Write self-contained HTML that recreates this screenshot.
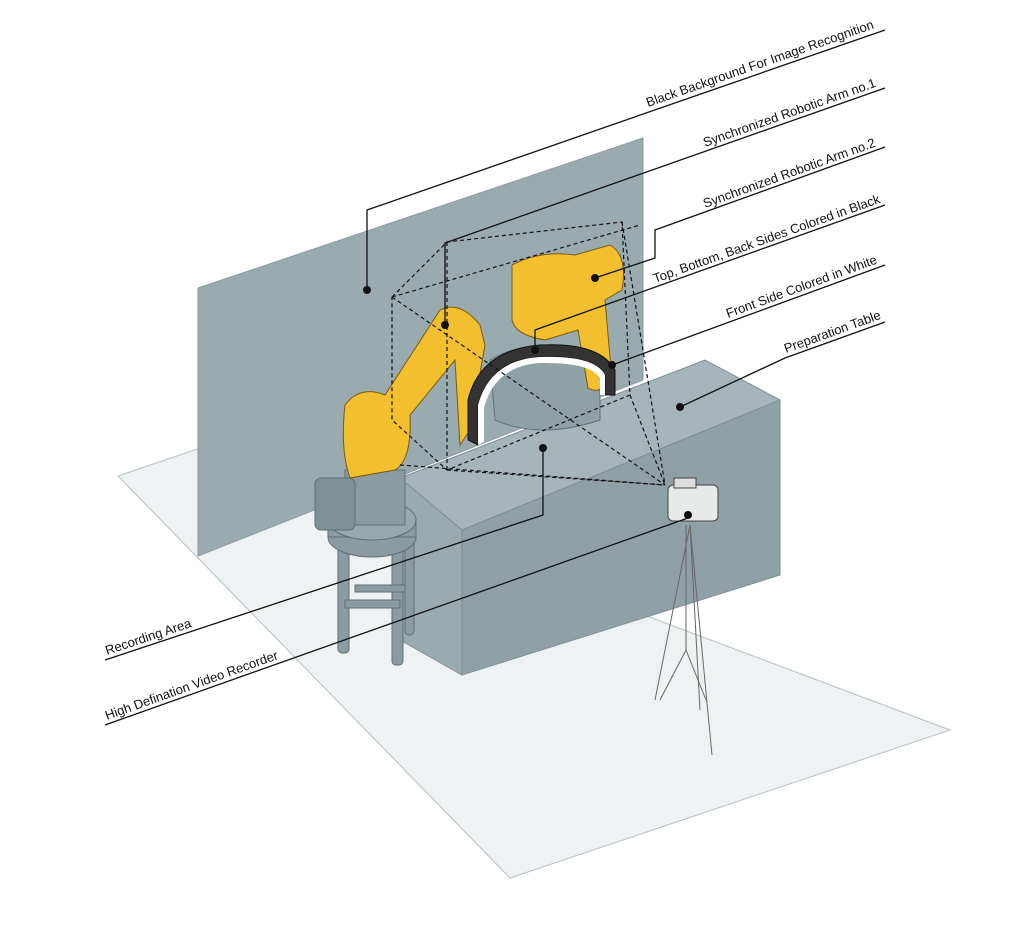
<!DOCTYPE html>
<html><head><meta charset="utf-8"><style>
html,body{margin:0;padding:0;background:#fff;}
svg{display:block}
text{font-family:"Liberation Sans",sans-serif;font-size:13px;fill:#111}
</style></head><body>
<svg width="1024" height="927" viewBox="0 0 1024 927" xmlns="http://www.w3.org/2000/svg">
<polygon points="118,476 200,448 950,730 510,878" fill="#eef2f3" stroke="#b5c0c3" stroke-width="1"/>
<polygon points="198,288 643,138 643,380 198,556" fill="#9aabb0" stroke="#8a9a9f" stroke-width="1"/>
<polygon points="400,478 705,360 780,400 462,530" fill="#a5b5b9" stroke="#7f8f94" stroke-width="1"/>
<polygon points="462,530 780,400 780,575 462,675" fill="#8fa1a6" stroke="#7f8f94" stroke-width="1"/>
<polygon points="400,478 462,530 462,675 400,640" fill="#9aabb0" stroke="#7f8f94" stroke-width="1"/>
<g fill="#8a9ca1" stroke="#5f6f74" stroke-width="1">
<rect x="338" y="545" width="11" height="108" rx="4"/>
<rect x="392" y="545" width="11" height="120" rx="4"/>
<rect x="405" y="540" width="9" height="95" rx="4"/>
<rect x="345" y="600" width="55" height="8"/>
<rect x="355" y="585" width="50" height="7"/>
<ellipse cx="372" cy="537" rx="44" ry="20"/>
<rect x="328" y="520" width="88" height="17"/>
<ellipse cx="372" cy="520" rx="44" ry="20" fill="#98a9ae"/>
<rect x="345" y="470" width="60" height="55" fill="#8a9ca1"/>
<rect x="315" y="478" width="40" height="52" rx="6" fill="#7f9196"/>
</g>
<path d="M490,360 Q540,330 600,370 L600,420 Q540,440 495,420 Z" fill="#8fa1a6" stroke="#5f6f74"/>
<g fill="#f2bf2e" stroke="#7a5a10" stroke-width="1">
<path d="M512,265 Q540,250 575,255 L610,245 Q628,255 622,290 L605,300 L612,380 Q600,395 588,388 L578,330 L545,340 Q515,335 512,320 Z"/>
<path d="M345,405 Q360,385 385,395 L440,310 Q460,300 480,325 L485,345 L470,430 L460,445 L455,360 L410,415 Q412,460 395,470 L350,478 Q340,450 345,405 Z"/>
</g>
<path d="M468,440 L468,400 Q480,350 540,345 Q600,342 615,370 L615,395 L605,395 L605,375 Q595,355 540,357 Q490,360 478,405 L478,445 Z" fill="#333" stroke="#111"/>
<path d="M478,445 L478,405 Q490,360 540,357 Q595,355 605,375 L605,395 L600,395 L600,378 Q590,362 540,363 Q495,366 484,408 L484,442 Z" fill="#fff"/>
<g stroke="#666" stroke-width="1" fill="none">
<line x1="690" y1="525" x2="655" y2="700"/>
<line x1="690" y1="525" x2="712" y2="755"/>
<line x1="690" y1="525" x2="700" y2="710"/>
<line x1="686" y1="525" x2="686" y2="650"/>
<line x1="686" y1="650" x2="660" y2="700"/>
<line x1="686" y1="650" x2="706" y2="700"/>
</g>
<rect x="668" y="485" width="50" height="36" rx="5" fill="#e8eaea" stroke="#444"/>
<rect x="674" y="478" width="22" height="10" fill="#ddd" stroke="#444"/>
<g stroke="#111" stroke-width="1.2" stroke-dasharray="4,3" fill="none">
<polyline points="392,297 447,242 622,222 630,395 447,470 392,420 392,297"/>
<line x1="392" y1="297" x2="665" y2="485"/>
<line x1="622" y1="222" x2="665" y2="485"/>
<line x1="630" y1="395" x2="665" y2="485"/>
<line x1="447" y1="470" x2="665" y2="485"/>
<line x1="400" y1="465" x2="665" y2="485"/>
<line x1="447" y1="242" x2="447" y2="470"/>
<line x1="392" y1="297" x2="640" y2="225"/>
</g>
<g stroke="#111" stroke-width="1.3" fill="none">
<polyline points="885,30 367,210 367,290"/>
<polyline points="885,88 445,243 445,325"/>
<polyline points="885,147 655,230 655,258 595,278"/>
<polyline points="885,205 535,330 535,350"/>
<polyline points="885,265 612,365"/>
<polyline points="885,322 785,358 680,407"/>
<polyline points="105,660 543,515 543,448"/>
<polyline points="105,725 688,518"/>
</g>
<g fill="#111">
<circle cx="367" cy="290" r="4"/><circle cx="445" cy="325" r="4"/>
<circle cx="595" cy="278" r="4"/><circle cx="535" cy="350" r="4"/>
<circle cx="612" cy="365" r="4"/><circle cx="680" cy="407" r="4"/>
<circle cx="543" cy="448" r="4"/><circle cx="688" cy="515" r="4"/>
</g>
<text transform="translate(648,107) rotate(-19.2)">Black Background For Image Recognition</text>
<text transform="translate(705,147) rotate(-19.4)">Synchronized Robotic Arm no.1</text>
<text transform="translate(705,208) rotate(-19.8)">Synchronized Robotic Arm no.2</text>
<text transform="translate(655,283) rotate(-19.6)">Top, Bottom, Back Sides Colored in Black</text>
<text transform="translate(728,318) rotate(-20.1)">Front Side Colored in White</text>
<text transform="translate(786,353) rotate(-19.8)">Preparation Table</text>
<text transform="translate(107,655) rotate(-18.3)">Recording Area</text>
<text transform="translate(107,720) rotate(-19.6)">High Defination Video Recorder</text>
</svg>
</body></html>
